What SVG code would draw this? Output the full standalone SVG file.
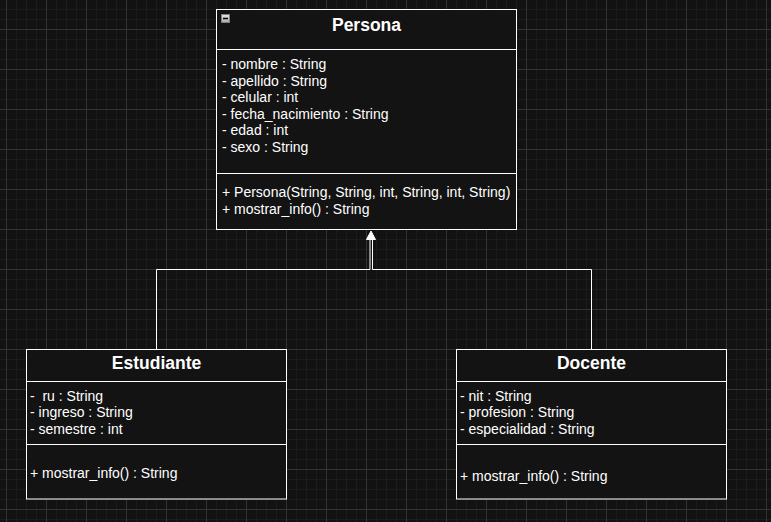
<svg xmlns="http://www.w3.org/2000/svg" width="771" height="522" viewBox="0 0 771 522">
<defs>
<pattern id="grid" x="6" y="29" width="40" height="40" patternUnits="userSpaceOnUse">
<rect width="40" height="40" fill="#121212"/>
<path d="M10.5 0V40M20.5 0V40M30.5 0V40M0 10.5H40M0 20.5H40M0 30.5H40" stroke="#1c1c1c" stroke-width="1"/>
<path d="M0.5 0V40M0 0.5H40" stroke="#333333" stroke-width="1"/>
</pattern>
<linearGradient id="ico" x1="0" y1="0" x2="0" y2="1">
<stop offset="0" stop-color="#e8e8e8"/>
<stop offset="1" stop-color="#a8a8a8"/>
</linearGradient>
</defs>
<style>
.box{fill:#131313;stroke:#ffffff;stroke-width:1}
.sep{stroke:#ffffff;stroke-width:1}
.t{font-family:"Liberation Sans",Arial,sans-serif;font-size:14px;fill:#ffffff}
.h{font-family:"Liberation Sans",Arial,sans-serif;font-size:17.5px;font-weight:bold;fill:#ffffff;text-anchor:middle}
.edge{fill:none;stroke:#ffffff;stroke-width:1}
</style>
<rect width="771" height="522" fill="url(#grid)"/>
<g id="connectors">
<polyline class="edge" points="156.5,349.5 156.5,269.5 370,269.5 370,238"/>
<polyline class="edge" points="591.5,349.5 591.5,269.5 372.5,269.5 372.5,238"/>
<polygon points="366.5,239.5 371,231 375.5,239.5" fill="#ffffff" stroke="#ffffff" stroke-width="1"/>
</g>
<g id="persona">
<rect class="box" x="216.5" y="9.5" width="300" height="220"/>
<line class="sep" x1="216.5" y1="49.5" x2="516.5" y2="49.5"/>
<line class="sep" x1="216.5" y1="173.5" x2="516.5" y2="173.5"/>
<rect x="221.5" y="14.5" width="8" height="8" fill="url(#ico)" stroke="#808080" stroke-width="1"/>
<line x1="223" y1="18.5" x2="228" y2="18.5" stroke="#000000" stroke-width="1.5"/>
<text class="h" x="366.5" y="31">Persona</text>
<text class="t" x="222" y="69">- nombre : String</text>
<text class="t" x="222" y="85.5">- apellido : String</text>
<text class="t" x="222" y="102">- celular : int</text>
<text class="t" x="222" y="118.5">- fecha_nacimiento : String</text>
<text class="t" x="222" y="135">- edad : int</text>
<text class="t" x="222" y="152">- sexo : String</text>
<text class="t" x="222" y="196.5">+ Persona(String, String, int, String, int, String)</text>
<text class="t" x="222" y="213.5">+ mostrar_info() : String</text>
</g>
<g id="estudiante">
<rect class="box" x="26.5" y="349.5" width="260" height="149.5"/>
<line class="sep" x1="26.5" y1="381.5" x2="286.5" y2="381.5"/>
<line class="sep" x1="26.5" y1="444.5" x2="286.5" y2="444.5"/>
<text class="h" x="156.5" y="369">Estudiante</text>
<text class="t" x="30" y="401" xml:space="preserve">-  ru : String</text>
<text class="t" x="30" y="417">- ingreso : String</text>
<text class="t" x="30" y="433.5">- semestre : int</text>
<text class="t" x="30" y="478">+ mostrar_info() : String</text>
</g>
<g id="docente">
<rect class="box" x="456.5" y="349.5" width="270" height="149.5"/>
<line class="sep" x1="456.5" y1="381.5" x2="726.5" y2="381.5"/>
<line class="sep" x1="456.5" y1="444.5" x2="726.5" y2="444.5"/>
<text class="h" x="591.5" y="369">Docente</text>
<text class="t" x="460" y="401">- nit : String</text>
<text class="t" x="460" y="417">- profesion : String</text>
<text class="t" x="460" y="433.5">- especialidad : String</text>
<text class="t" x="460" y="481">+ mostrar_info() : String</text>
</g>
</svg>
